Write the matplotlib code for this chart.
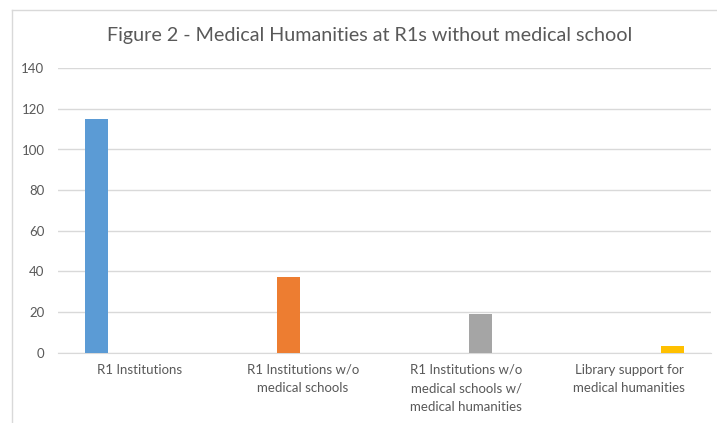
import matplotlib
matplotlib.use("Agg")
import matplotlib.pyplot as plt
from matplotlib.lines import Line2D
import numpy as np

plt.rcParams['font.family'] = ['Lato', 'DejaVu Sans']

categories = ["R1 Institutions",
              "R1 Institutions w/o\nmedical schools",
              "R1 Institutions w/o\nmedical schools w/\nmedical humanities",
              "Library support for\nmedical humanities"]
values = [115, 37, 19, 3]
colors = ["#5B9BD5", "#ED7D31", "#A5A5A5", "#FFC000"]
yticks = [0, 20, 40, 60, 80, 100, 120, 140]
title = "Figure 2 - Medical Humanities at R1s without medical school"

fig = plt.figure(figsize=(7.17, 4.23), dpi=100)
ax = fig.add_axes([58.3/717, 1-352.5/423, (710.7-58.3)/717, (352.5-68.3)/423])

n = len(categories)
x = np.arange(n)
step = 0.1755
width = 0.14
for i, (v, c) in enumerate(zip(values, colors)):
    ax.bar(x[i] + (i - 1.5) * step, v, width=width, color=c, zorder=3)

ax.set_xlim(-0.5, n - 0.5)
ax.set_ylim(0, 140)
ax.set_yticks(yticks)
ax.set_yticklabels([str(t) for t in yticks])
ax.set_xticks(x)
ax.set_xticklabels(categories, linespacing=1.65)
ax.grid(axis='y', color='#D9D9D9', linewidth=1, zorder=0)
for s in ['top', 'right', 'left']:
    ax.spines[s].set_visible(False)
ax.spines['bottom'].set_color('#D9D9D9')
ax.tick_params(axis='both', length=0, colors='#595959', labelsize=9.5)
ax.tick_params(axis='y', pad=10)
ax.tick_params(axis='x', pad=8)

fig.text(370/717, 1-36/423, title, ha='center', va='center', fontsize=14.2, color='#595959')

# chart frame (left and top edges visible)
fig.add_artist(Line2D([12.3/717, 12.3/717], [0, 1-9.7/423], transform=fig.transFigure, color='#D9D9D9', linewidth=1))
fig.add_artist(Line2D([12.3/717, 1], [1-9.7/423, 1-9.7/423], transform=fig.transFigure, color='#D9D9D9', linewidth=1))

fig.savefig("out.png", dpi=100)
